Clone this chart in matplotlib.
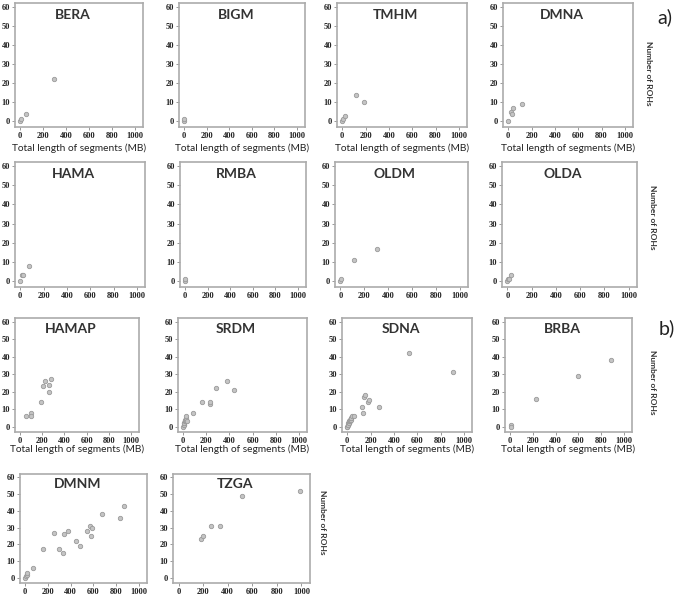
import matplotlib
matplotlib.use("Agg")
import matplotlib.pyplot as plt
from matplotlib import font_manager

# ---- data (Total length of segments in MB, Number of ROHs) ----
names = ["BERA", "BIGM", "TMHM", "DMNA",
         "HAMA", "RMBA", "OLDM", "OLDA",
         "HAMAP", "SRDM", "SDNA", "BRBA",
         "DMNM", "TZGA"]

bera_x = [0, 5, 52, 296]
bera_y = [0, 1, 4, 22]
bigm_x = [0, 2]
bigm_y = [0, 1]
tmhm_x = [0, 5, 20, 117, 186]
tmhm_y = [0, 1, 3, 14, 10]
dmna_x = [0, 25, 30, 38, 120]
dmna_y = [0, 5, 4, 7, 9]

hama_x = [0, 14, 22, 78]
hama_y = [0, 3, 3, 8]
rmba_x = [0, 3]
rmba_y = [0, 1]
oldm_x = [0, 5, 114, 311]
oldm_y = [0, 1, 11, 17]
olda_x = [0, 5, 10, 33]
olda_y = [0, 1, 1, 3]

hamap_x = [58, 102, 102, 190, 210, 227, 257, 265, 277]
hamap_y = [6, 8, 6, 14, 23, 26, 24, 20, 27]
srdm_x = [0, 3, 6, 8, 10, 12, 14, 16, 18, 20, 25, 28, 30, 87, 160, 231, 231, 285, 380, 439]
srdm_y = [0, 1, 1, 2, 2, 3, 3, 3, 4, 4, 5, 6, 3, 8, 14, 13, 14, 22, 26, 21]
sdna_x = [0, 2, 4, 6, 8, 10, 12, 14, 16, 18, 20, 22, 25, 28, 30, 35, 40, 56,
          123, 132, 146, 151, 179, 190, 274, 529, 908]
sdna_y = [0, 0, 1, 1, 2, 1, 2, 3, 2, 3, 3, 4, 4, 4, 5, 5, 6, 6,
          11, 8, 17, 18, 14, 15, 11, 42, 31]
brba_x = [5, 8, 225, 600, 885]
brba_y = [1, 0, 16, 29, 38]

dmnm_x = [0, 9, 14, 17, 66, 157, 257, 294, 329, 343, 380, 446, 483, 543,
          569, 577, 583, 674, 829, 871]
dmnm_y = [0, 1, 2, 3, 6, 17, 27, 17, 15, 26, 28, 22, 19, 28,
          31, 25, 30, 38, 36, 43]
tzga_x = [185, 200, 268, 338, 518, 990]
tzga_y = [23, 25, 31, 31, 49, 52]

series = [(bera_x, bera_y), (bigm_x, bigm_y), (tmhm_x, tmhm_y), (dmna_x, dmna_y),
          (hama_x, hama_y), (rmba_x, rmba_y), (oldm_x, oldm_y), (olda_x, olda_y),
          (hamap_x, hamap_y), (srdm_x, srdm_y), (sdna_x, sdna_y), (brba_x, brba_y),
          (dmnm_x, dmnm_y), (tzga_x, tzga_y)]

x_ticks = [0, 200, 400, 600, 800, 1000]
y_ticks = [0, 10, 20, 30, 40, 50, 60]
xlabel_text = "Total length of segments (MB)"
ylabel_text = "Number of ROHs"

available = {f.name for f in font_manager.fontManager.ttflist}
title_family = "Liberation Sans Narrow" if "Liberation Sans Narrow" in available else "Lato"

W, H = 685, 597
fig = plt.figure(figsize=(W / 100, H / 100), dpi=100)

# axes boxes in pixel coordinates: (left, top, right, bottom)
boxes = [
    (15, 3, 143, 127), (179, 3, 305, 127), (337, 3, 467, 127), (503, 3, 633, 127),
    (15, 162, 145, 287), (180, 162, 306, 287), (335, 162, 468, 287), (502, 162, 637, 287),
    (15, 318, 139, 432), (178, 318, 307, 432), (342, 318, 472, 432), (505, 318, 632, 432),
    (20, 474, 147, 583), (173, 474, 310, 583),
]

spine_col = "#ababab"
for (sx, sy), name, (l, t, r, b) in zip(series, names, boxes):
    ax = fig.add_axes([l / W, 1 - b / H, (r - l) / W, (b - t) / H])
    ax.scatter(sx, sy, s=10, facecolor="#c4c4c4", edgecolor="#9a9a9a",
               linewidths=0.6, zorder=3)
    ax.set_xlim(-45, 1070)
    ax.set_ylim(-3, 62)
    ax.set_xticks(x_ticks)
    ax.set_yticks(y_ticks)
    for sp in ax.spines.values():
        sp.set_color(spine_col)
        sp.set_linewidth(1.2)
    ax.tick_params(length=2, width=0.6, color="#888888", pad=1.5)
    for lab in ax.get_xticklabels() + ax.get_yticklabels():
        lab.set_fontfamily("Liberation Serif")
        lab.set_fontweight("bold")
        lab.set_fontsize(6)
        lab.set_color("#222222")
    ax.text(0.45, 0.905, name, transform=ax.transAxes, ha="center", va="center",
            fontsize=10, fontweight="bold", family=title_family, color="#333333")

# x labels for rows 1 and 3
for idx, ypix in [(0, 148), (1, 148), (2, 148), (3, 148),
                  (8, 449), (9, 449), (10, 449), (11, 449)]:
    l, t, r, b = boxes[idx]
    fig.text(((l + r) / 2) / W, 1 - ypix / H, xlabel_text, ha="center", va="center",
             fontsize=7.3, family="Lato", color="#222222")

# y labels on the right
for xpix, ypix in [(648, 73), (652, 217), (652, 382), (323, 522)]:
    fig.text(xpix / W, 1 - ypix / H, ylabel_text, rotation=-90, ha="center", va="center",
             fontsize=6, family="Lato", fontweight="bold", color="#333333")

fig.text(665 / W, 1 - 17 / H, "a)", ha="center", va="center", fontsize=14,
         family="Lato", color="#222222")
fig.text(667 / W, 1 - 328 / H, "b)", ha="center", va="center", fontsize=14,
         family="Lato", color="#222222")

fig.savefig("out.png", dpi=100)
